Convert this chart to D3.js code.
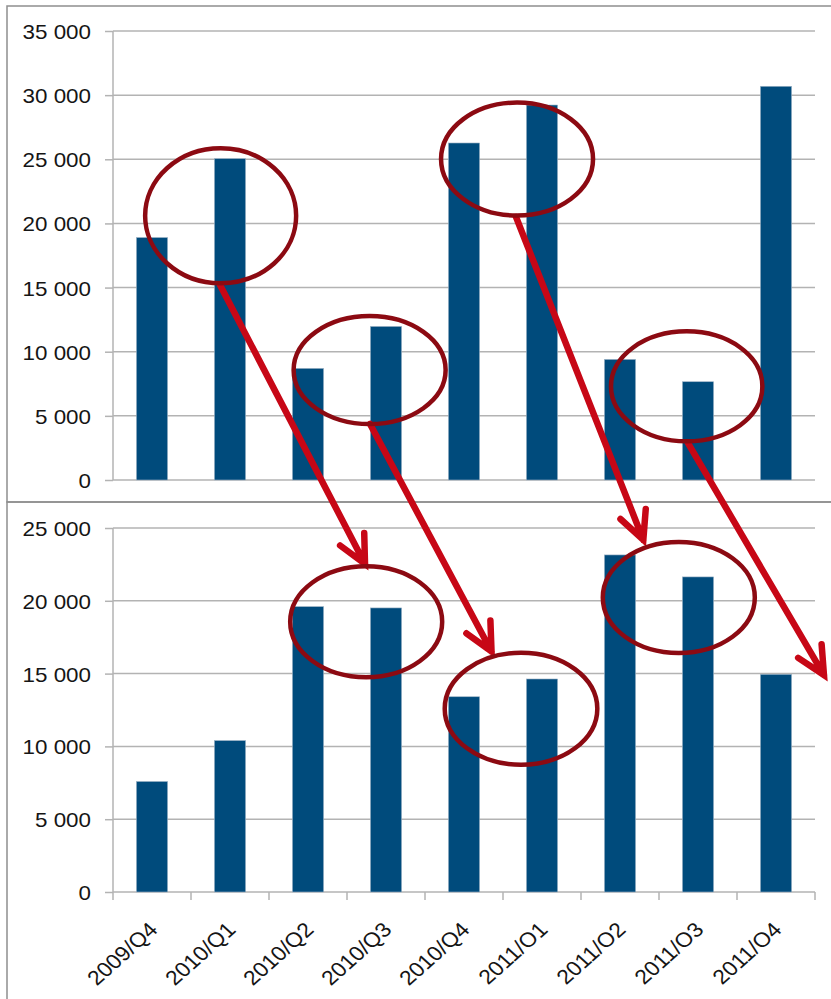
<!DOCTYPE html>
<html>
<head>
<meta charset="utf-8">
<script src="https://cdn.jsdelivr.net/npm/d3@7"></script>
<style>
  body { margin: 0; background: #fff; }
  svg text { font-family: "Liberation Sans", Arial, sans-serif; fill: #151515; }
</style>
</head>
<body>
<div id="chart"></div>
<script>
// quarters (the 2011 labels really use the letter O)
const quarters = ["2009/Q4", "2010/Q1", "2010/Q2", "2010/Q3", "2010/Q4", "2011/O1", "2011/O2", "2011/O3", "2011/O4"];
const topValues = [18900, 25050, 8700, 11970, 26270, 29230, 9400, 7660, 30690];
const bottomValues = [7590, 10400, 19600, 19510, 13410, 14630, 23150, 21640, 14950];
const topTicks = [0, 5000, 10000, 15000, 20000, 25000, 30000, 35000];
const bottomTicks = [0, 5000, 10000, 15000, 20000, 25000];

// hand drawn marks: at = category index (fractional), v = value on that panel
const rings = [
    { panel: "top", at: 0.88, v: 20600, rx: 75.5, ry: 67.5 },
    { panel: "top", at: 2.79, v: 8570, rx: 76, ry: 54 },
    { panel: "top", at: 4.68, v: 25020, rx: 76, ry: 56.5 },
    { panel: "top", at: 6.855, v: 7300, rx: 75.7, ry: 55 },
    { panel: "bottom", at: 2.746, v: 18560, rx: 76, ry: 55.5 },
    { panel: "bottom", at: 4.731, v: 12590, rx: 76.3, ry: 56 },
    { panel: "bottom", at: 6.754, v: 20230, rx: 76, ry: 55.5 }
];
const arrows = [
    { from: [0.872, 15200], to: [2.731, 22530] },
    { from: [2.795, 4370], to: [4.353, 16520] },
    { from: [4.667, 20500], to: [6.299, 24180] },
    { from: [6.872, 2880], to: [8.615, 14900] }
];

const W = 831, H = 999;
const left = 113, right = 815;
const barColor = "#004b7c";
const gridColor = "#b3b3b3";
const stretch = 1.12; // source picture is a bit wider than tall

const fmt = d3.formatLocale({ decimal: ",", thousands: " ", grouping: [3], currency: ["", ""] }).format(",");

const svg = d3.select("#chart").append("svg")
    .attr("width", W)
    .attr("height", H);

// panel frames
svg.append("rect")
    .attr("x", 7).attr("y", 6).attr("width", W).attr("height", 496)
    .attr("fill", "none").attr("stroke", "#8f8f8f").attr("stroke-width", 1.5);
svg.append("rect")
    .attr("x", 7).attr("y", 502).attr("width", W).attr("height", H)
    .attr("fill", "none").attr("stroke", "#8f8f8f").attr("stroke-width", 1.5);

// bars sit in 40% of each category slot
let x = d3.scaleBand()
    .domain(quarters)
    .range([left, right])
    .paddingInner(0.6)
    .paddingOuter(0.3);
let xEdge = d3.scaleBand().domain(quarters).range([left, right]);
const xAt = i => left + xEdge.step() * (i + 0.5);

let yTop = d3.scaleLinear().domain([0, 35000]).range([480, 31]);
let yBottom = d3.scaleLinear().domain([0, 25000]).range([892, 528]);
const scales = { top: yTop, bottom: yBottom };

function drawPanel(values, y, ticks, withLabels) {
    const g = svg.append("g");

    // gridlines
    g.selectAll(".grid")
        .data(ticks)
        .join("line")
        .attr("class", "grid")
        .attr("x1", left).attr("x2", right)
        .attr("y1", d => y(d)).attr("y2", d => y(d))
        .attr("stroke", gridColor)
        .attr("stroke-width", 1.5);

    // y axis
    const ax = g.append("g")
        .attr("transform", `translate(${left},0)`)
        .call(d3.axisLeft(y).tickValues(ticks).tickFormat(fmt).tickSizeInner(8).tickSizeOuter(0));
    ax.select(".domain").remove();
    ax.selectAll(".tick line").attr("stroke", gridColor).attr("stroke-width", 1.5);
    ax.selectAll(".tick text")
        .attr("x", null).attr("dy", null)
        .attr("y", 7.5)
        .attr("transform", `translate(-22,0) scale(${stretch},1)`)
        .attr("font-size", 20)
        .attr("font-family", "'Liberation Sans', Arial, sans-serif")
        .attr("fill", "#151515");

    g.append("line")
        .attr("x1", left).attr("x2", left)
        .attr("y1", y(ticks[ticks.length - 1])).attr("y2", y(0))
        .attr("stroke", gridColor).attr("stroke-width", 1.5);

    // bars
    g.selectAll(".bar")
        .data(values)
        .join("rect")
        .attr("class", "bar")
        .attr("x", (d, i) => x(quarters[i]))
        .attr("width", x.bandwidth())
        .attr("y", d => y(d))
        .attr("height", d => y(0) - y(d))
        .attr("fill", barColor)
        .attr("stroke", "#9db3c6")
        .attr("stroke-width", 0.6);

    if (withLabels) {
        // category tick marks on band edges
        const edges = quarters.map(q => xEdge(q)).concat([right]);
        g.selectAll(".xtick")
            .data(edges)
            .join("line")
            .attr("class", "xtick")
            .attr("x1", d => d).attr("x2", d => d)
            .attr("y1", y(0)).attr("y2", y(0) + 8)
            .attr("stroke", gridColor).attr("stroke-width", 1.5);

        g.selectAll(".xlabel")
            .data(quarters)
            .join("text")
            .attr("class", "xlabel")
            .attr("text-anchor", "end")
            .attr("font-size", 20.5)
            .attr("transform", d => `translate(${xEdge(d) + xEdge.step() / 2 + 7},${y(0) + 39}) scale(${stretch},1) rotate(-45)`)
            .text(d => d);
    }
}

drawPanel(topValues, yTop, topTicks, false);
drawPanel(bottomValues, yBottom, bottomTicks, true);

// red arrows from top panel down to bottom panel
const armLen = 31, armAngle = 26 * Math.PI / 180;
const arrowPath = a => {
    const x0 = xAt(a.from[0]), y0 = yTop(a.from[1]);
    const x1 = xAt(a.to[0]), y1 = yBottom(a.to[1]);
    const back = Math.atan2(y0 - y1, x0 - x1);
    const p1 = [x1 + armLen * Math.cos(back - armAngle), y1 + armLen * Math.sin(back - armAngle)];
    const p2 = [x1 + armLen * Math.cos(back + armAngle), y1 + armLen * Math.sin(back + armAngle)];
    return `M${x0},${y0}L${x1},${y1}M${p1}L${x1},${y1}L${p2}`;
};
svg.append("g")
    .selectAll("path")
    .data(arrows)
    .join("path")
    .attr("d", arrowPath)
    .attr("fill", "none")
    .attr("stroke", "#c70716")
    .attr("stroke-width", 6.5)
    .attr("stroke-linecap", "round")
    .attr("stroke-linejoin", "miter");

// dark red rings
svg.append("g")
    .selectAll("ellipse")
    .data(rings)
    .join("ellipse")
    .attr("cx", d => xAt(d.at))
    .attr("cy", d => scales[d.panel](d.v))
    .attr("rx", d => d.rx)
    .attr("ry", d => d.ry)
    .attr("fill", "none")
    .attr("stroke", "#8c0a12")
    .attr("stroke-width", 4.5);
</script>
</body>
</html>
